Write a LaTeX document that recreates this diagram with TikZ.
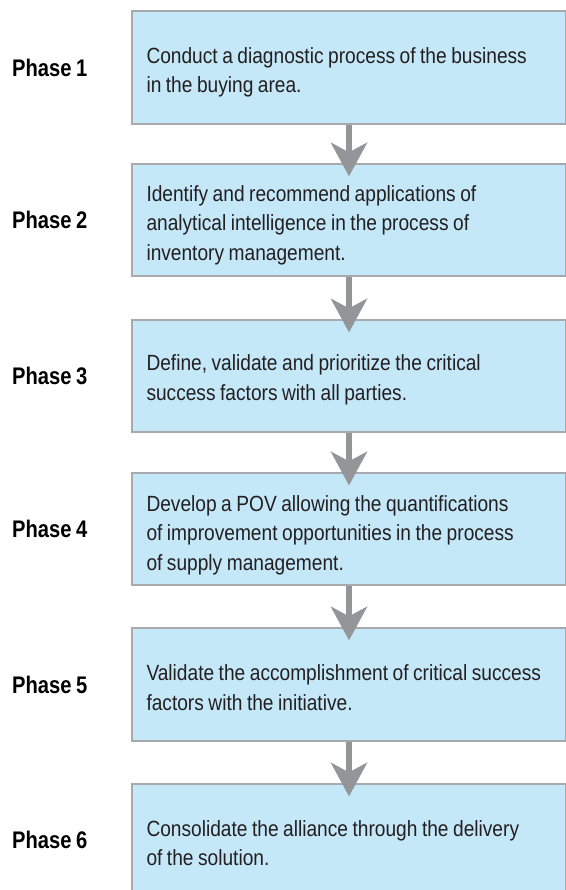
\documentclass[tikz,border=0pt]{standalone}
\usepackage{fontspec}
\setmainfont{Liberation Sans}[FakeStretch=0.87, WordSpace=0.85]
\newfontfamily\phasefont{Liberation Sans}[FakeStretch=0.84, WordSpace=0.8]
\usetikzlibrary{arrows.meta}
\definecolor{boxfill}{HTML}{C5E8F9}
\definecolor{boxline}{HTML}{A7A9AC}
\definecolor{arrowgray}{HTML}{939598}
\definecolor{txt}{HTML}{231F20}
\tikzset{
  stepbox/.style={draw=boxline, line width=1.4pt, fill=boxfill, rectangle,
    minimum width=434pt, inner sep=0pt},
  steptext/.style={anchor=west, inner sep=0pt, align=left, text=txt,
    font=\fontsize{22}{29.5}\selectfont},
  phaselabel/.style={anchor=west, inner sep=0pt, text=black,
    font=\phasefont\bfseries\fontsize{24}{28}\selectfont},
  flowarrow/.style={draw=arrowgray, line width=5.3pt,
    -{Stealth[length=34pt, width=37pt, inset=10pt, line width=0pt, fill=arrowgray]}}
}
\begin{document}
\begin{tikzpicture}[x=1pt, y=-1pt]
\useasboundingbox (0,0) rectangle (565,890);
\node[stepbox, minimum height=113pt] (b1) at (349,67.5) {};
\node[stepbox, minimum height=112pt] (b2) at (349,220) {};
\node[stepbox, minimum height=112pt] (b3) at (349,376) {};
\node[stepbox, minimum height=112pt] (b4) at (349,529) {};
\node[stepbox, minimum height=113pt] (b5) at (349,684.5) {};
\node[stepbox, minimum height=112pt] (b6) at (349,840) {};

\node[steptext] (t1) at ([xshift=15pt, yshift=-5pt]b1.west)
  {Conduct a diagnostic process of the business\\in the buying area.};
\node[steptext] (t2) at ([xshift=15pt, yshift=-5pt]b2.west)
  {Identify and recommend applications of\\analytical intelligence in the process of\\inventory management.};
\node[steptext] (t3) at ([xshift=15pt, yshift=-4pt]b3.west)
  {Define, validate and prioritize the critical\\success factors with all parties.};
\node[steptext] (t4) at ([xshift=15pt, yshift=-6pt]b4.west)
  {Develop a POV allowing the quantifications\\of improvement opportunities in the process\\of supply management.};
\node[steptext] (t5) at ([xshift=15pt, yshift=-3pt]b5.west)
  {Validate the accomplishment of critical success\\factors with the initiative.};
\node[steptext] (t6) at ([xshift=15pt, yshift=-3pt]b6.west)
  {Consolidate the alliance through the delivery\\of the solution.};

\node[phaselabel] (p1) at (12,67.5) {Phase 1};
\node[phaselabel] (p2) at (12,220) {Phase 2};
\node[phaselabel] (p3) at (12,376) {Phase 3};
\node[phaselabel] (p4) at (12,529) {Phase 4};
\node[phaselabel] (p5) at (12,684.5) {Phase 5};
\node[phaselabel] (p6) at (12,840) {Phase 6};

\draw[flowarrow] (b1.south) -- ([yshift=-13pt]b2.north);
\draw[flowarrow] (b2.south) -- ([yshift=-13pt]b3.north);
\draw[flowarrow] (b3.south) -- ([yshift=-13pt]b4.north);
\draw[flowarrow] (b4.south) -- ([yshift=-13pt]b5.north);
\draw[flowarrow] (b5.south) -- ([yshift=-13pt]b6.north);
\end{tikzpicture}
\end{document}
